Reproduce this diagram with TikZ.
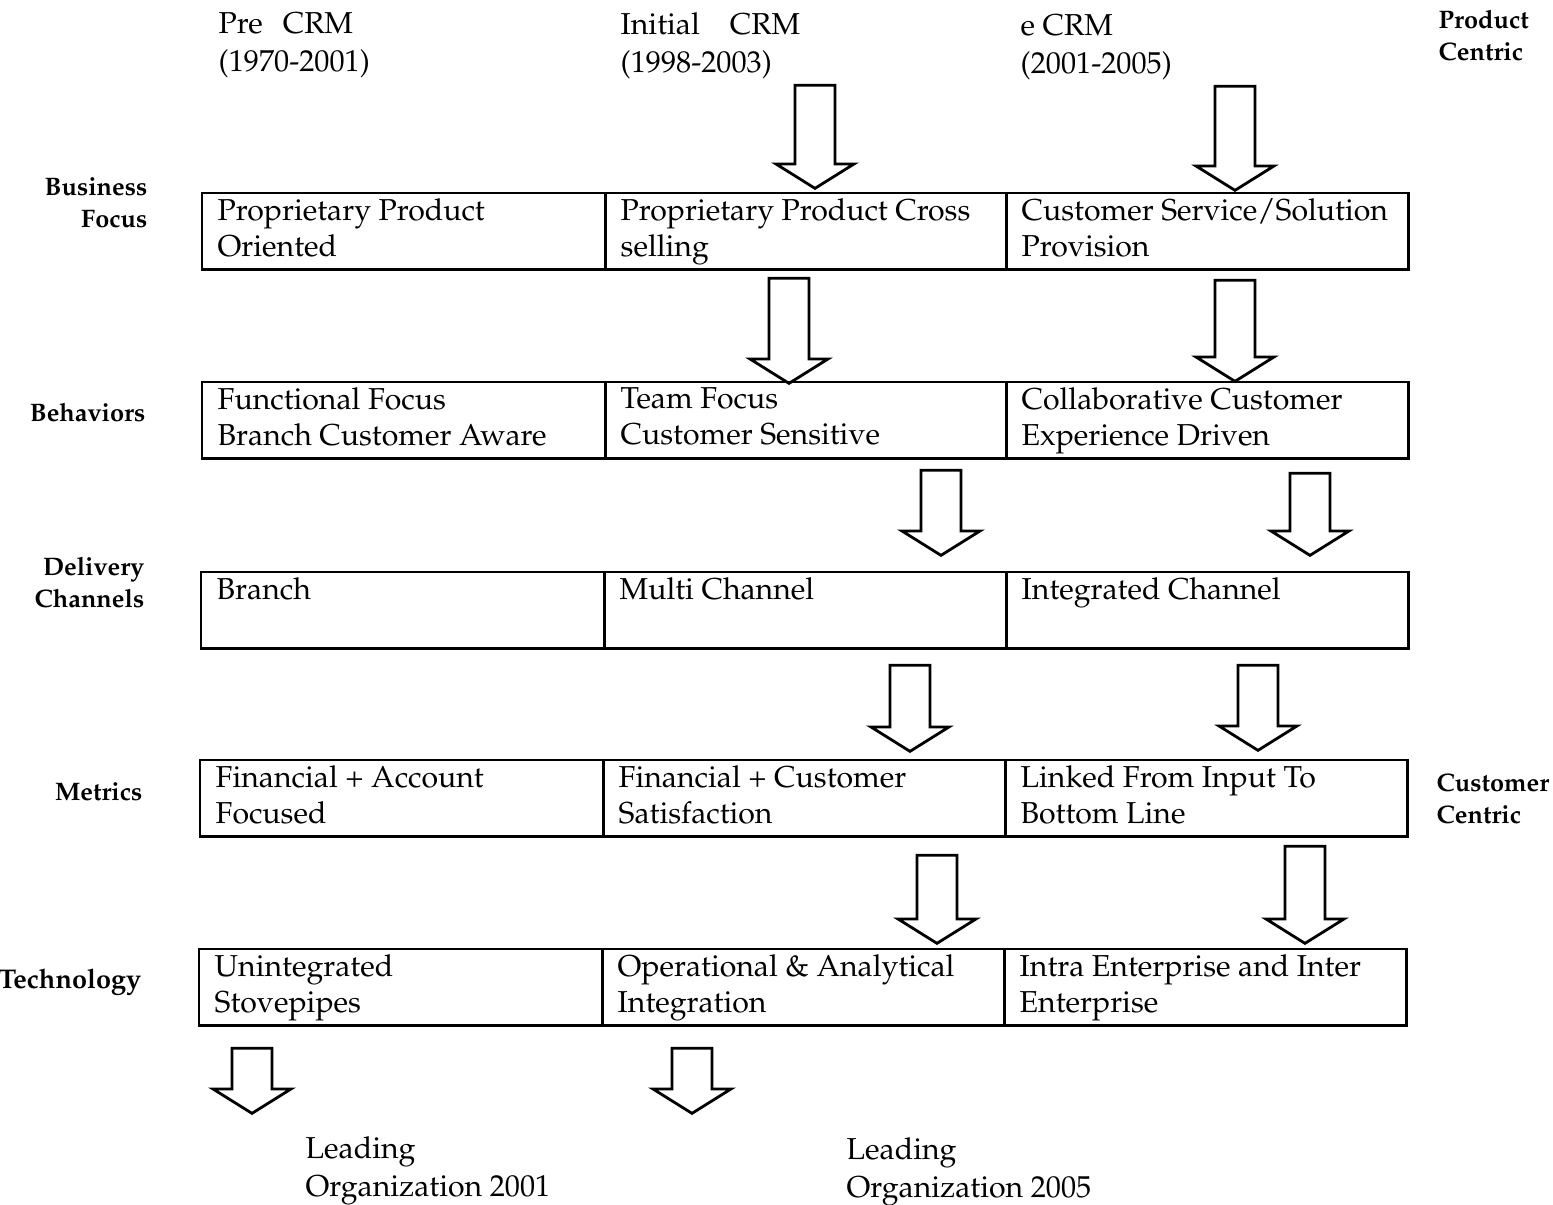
\documentclass[tikz,border=0pt]{standalone}
\usepackage[T1]{fontenc}
\usepackage{mathpazo}
\usepackage{tikz}
\usetikzlibrary{positioning,shapes.arrows}

\begin{document}
\begin{tikzpicture}[x=0.01cm,y=-0.01cm,
  cell/.style={draw,line width=0.7pt,anchor=north west,minimum height=0.76cm,inner sep=0pt},
  celltext/.style={anchor=north west,align=left,inner sep=0pt,xshift=0.16cm,yshift=-0.06cm,font=\fontsize{8.6}{10.3}\selectfont},
  head/.style={anchor=north west,align=left,inner sep=0pt,font=\fontsize{8.6}{10.8}\selectfont},
  rowlab/.style={anchor=north east,align=right,inner sep=0pt,font=\bfseries\fontsize{7.2}{9.1}\selectfont},
  sidelab/.style={anchor=north west,align=left,inner sep=0pt,font=\bfseries\fontsize{7.2}{9.1}\selectfont},
  downarrow/.style={single arrow,draw,line width=0.8pt,inner sep=0.185cm,
    single arrow head extend=0.19cm,single arrow tip angle=116,shape border rotate=270,anchor=tip}]

  \useasboundingbox (0,0) rectangle (1553,1205);

  % column heads
  \node[head] (pre) at (218,12) {Pre\hspace{0.2cm}CRM\\(1970-2001)};
  \node[head] (ini) at (620,12) {Initial\hspace{0.3cm}CRM\\(1998-2003)};
  \node[head] (ecrm) at (1020,14) {e CRM\\(2001-2005)};
  \node[sidelab] (prod) at (1438,9) {Product\\Centric};
  \node[sidelab] (cust) at (1436,773) {Customer\\Centric};

  % row labels
  \node[rowlab] (lbf) at (148,177) {Business\\Focus};
  \node[rowlab] (lbh) at (146,402) {Behaviors};
  \node[rowlab] (ldc) at (145,556) {Delivery\\Channels};
  \node[rowlab] (lmt) at (143,782) {Metrics};
  \node[rowlab,font=\bfseries\fontsize{7.7}{9.1}\selectfont] (ltc) at (142,968) {Technology};

  % business focus
  \node[cell,minimum width=4.03cm] (bf1) at (201,192) {};
  \node[cell,minimum width=4.01cm] (bf2) at (604,192) {};
  \node[cell,minimum width=4.02cm] (bf3) at (1005,192) {};
  \node[celltext] at (bf1.north west) {Proprietary Product\\Oriented};
  \node[celltext] at (bf2.north west) {Proprietary Product Cross\\selling};
  \node[celltext] at (bf3.north west) {Customer Service/Solution\\Provision};

  % behaviors
  \node[cell,minimum width=4.03cm] (bh1) at (201,381) {};
  \node[cell,minimum width=4.01cm] (bh2) at (604,381) {};
  \node[cell,minimum width=4.02cm] (bh3) at (1005,381) {};
  \node[celltext] at (bh1.north west) {Functional Focus\\Branch Customer Aware};
  \node[celltext] at (bh2.north west) {Team Focus\\Customer Sensitive};
  \node[celltext] at (bh3.north west) {Collaborative Customer\\Experience Driven};

  % delivery channels
  \node[cell,minimum width=4.03cm] (dc1) at (200,571) {};
  \node[cell,minimum width=4.02cm] (dc2) at (603,571) {};
  \node[cell,minimum width=4.02cm] (dc3) at (1005,571) {};
  \node[celltext] at (dc1.north west) {Branch};
  \node[celltext] at (dc2.north west) {Multi Channel};
  \node[celltext] at (dc3.north west) {Integrated Channel};

  % metrics
  \node[cell,minimum width=4.03cm] (mt1) at (199,759) {};
  \node[cell,minimum width=4.02cm] (mt2) at (602,759) {};
  \node[cell,minimum width=4.02cm] (mt3) at (1004,759) {};
  \node[celltext] at (mt1.north west) {Financial + Account\\Focused};
  \node[celltext] at (mt2.north west) {Financial + Customer\\Satisfaction};
  \node[celltext] at (mt3.north west) {Linked From Input To\\Bottom Line};

  % technology
  \node[cell,minimum width=4.03cm] (tc1) at (198,948) {};
  \node[cell,minimum width=4.02cm] (tc2) at (601,948) {};
  \node[cell,minimum width=4.02cm] (tc3) at (1003,948) {};
  \node[celltext] at (tc1.north west) {Unintegrated\\Stovepipes};
  \node[celltext] at (tc2.north west) {Operational \& Analytical\\Integration};
  \node[celltext] at (tc3.north west) {Intra Enterprise and Inter\\Enterprise};

  % arrows
  \node[downarrow,minimum height=1.03cm] (ta1) at (815,190) {};
  \node[downarrow,minimum height=1.04cm] (ta2) at (1235,192) {};
  \node[downarrow,minimum height=1.05cm] (ba1) at (789,385) {};
  \node[downarrow,minimum height=1.01cm] (ba2) at (1235,383) {};
  \node[downarrow,minimum height=0.85cm] (da1) at (941,557) {};
  \node[downarrow,minimum height=0.82cm] (da2) at (1310,557) {};
  \node[downarrow,minimum height=0.86cm] (ma1) at (910,753) {};
  \node[downarrow,minimum height=0.85cm] (ma2) at (1258,752) {};
  \node[downarrow,minimum height=0.88cm] (ea1) at (937,945) {};
  \node[downarrow,minimum height=0.97cm] (ea2) at (1305,945) {};
  \node[downarrow,minimum height=0.65cm] (la1) at (252,1115) {};
  \node[downarrow,minimum height=0.65cm] (la2) at (692,1115) {};

  % leading organisations
  \node[head] (lo1) at (305,1136) {Leading\\Organization 2001};
  \node[head] (lo2) at (846,1137) {Leading\\Organization 2005};

\end{tikzpicture}
\end{document}
